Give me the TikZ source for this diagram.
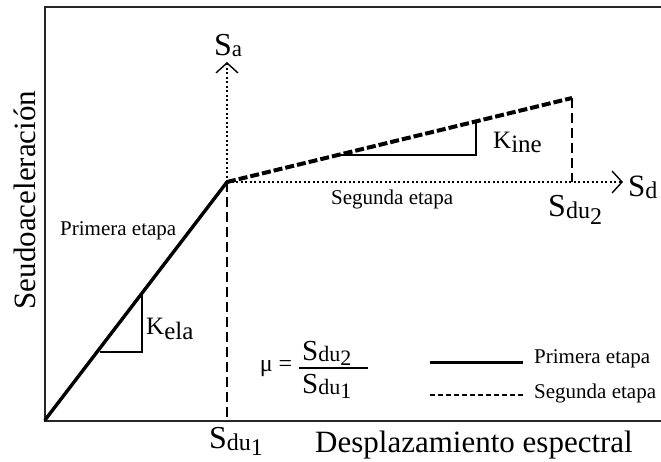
\documentclass[tikz,border=0pt]{standalone}
\usepackage{fontspec}
\setmainfont{Liberation Serif}
\usetikzlibrary{arrows.meta}
\newcommand{\fs}[1]{\fontsize{#1}{#1}\selectfont}
\tikzset{
  frameline/.style={line width=2pt, draw=black!85},
  elastic/.style={line width=3.4pt, line cap=round},
  inelastic/.style={line width=4pt, dash pattern=on 9pt off 3pt},
  guide/.style={line width=1.2pt, dash pattern=on 10pt off 5pt},
  axisdot/.style={line width=2pt, dash pattern=on 2pt off 2.5pt,
     -{Straight Barb[length=10pt,width=22pt,line width=1.4pt]}},
  slope/.style={line width=1.5pt},
  lbl/.style={inner sep=0pt, anchor=base west},
}
\begin{document}
\begin{tikzpicture}[x=1pt,y=-1pt]
\useasboundingbox (0,0) rectangle (661,461);
% frame
\coordinate (TL) at (45,7);
\coordinate (TR) at (662,7);
\coordinate (BL) at (45,421);
\coordinate (BR) at (662,421);
\draw[frameline] (TR) -- (TL) -- (BL) -- (BR);
% key points
\coordinate (O) at (45,420);
\coordinate (Y) at (227,182);
\coordinate (E) at (572,98);
\coordinate (SaTip) at (227,62);
\coordinate (SdTip) at (623,182);
\coordinate (Efoot) at (572,182);
\coordinate (Yfoot) at (227,420);
% guides
\draw[guide] (Y) -- (Yfoot);
\draw[guide] (E) -- (Efoot);
% local axes
\draw[axisdot] (Y) -- (SaTip);
\draw[axisdot] (Y) -- (SdTip);
% slope triangles
\coordinate (ka) at (100,352);
\coordinate (kb) at (142,352);
\coordinate (kc) at (142,295);
\draw[slope] (ka) -- (kb) -- (kc);
\coordinate (ia) at (338,155);
\coordinate (ib) at (476,155);
\coordinate (ic) at (476,121);
\draw[slope] (ia) -- (ib) -- (ic);
% curves
\draw[elastic] (O) -- (Y);
\draw[inelastic] (Y) -- (E);
% labels
\node[rotate=90, inner sep=0pt] (ylab) at (25,200) {\fs{31}Seudoaceleración};
\node[lbl] (xlab) at (315,452) {\fs{31}Desplazamiento espectral};
\node[lbl] (Sa) at (214,55) {\fs{32}S\raisebox{-1pt}{\fs{23}a}};
\node[lbl] (Sd) at (628,196) {\fs{31}S\raisebox{-2pt}{\fs{24}d}};
\node[lbl] (Sdu2) at (548,216) {\fs{32}S\raisebox{-2pt}{\fs{24}du\raisebox{-6pt}{2}}};
\node[lbl] (Sdu1) at (209,448) {\fs{32}S\raisebox{-2pt}{\fs{24}du\raisebox{-5pt}{1}}};
\node[lbl] (p1) at (60,235) {\fs{21}Primera etapa};
\node[lbl] (s2) at (331,204) {\fs{21}Segunda etapa};
\node[lbl] (Kela) at (146,334) {\fs{25}K\raisebox{-5pt}{\fs{25}ela}};
\node[lbl] (Kine) at (493,148) {\fs{25}K\raisebox{-4pt}{\fs{25}ine}};
% ductility formula
\node[inner sep=0pt] (mu) at (276,369) {\fs{24}μ =};
\coordinate (fa) at (299,368);
\coordinate (fb) at (368,368);
\draw[line width=1.7pt] (fa) -- (fb);
\node[lbl] (num) at (302,360) {\fs{29}S\raisebox{-1pt}{\fs{22}du\raisebox{-4pt}{2}}};
\node[lbl] (den) at (302,393) {\fs{29}S\raisebox{-1pt}{\fs{22}du\raisebox{-4pt}{1}}};
% legend
\coordinate (l1a) at (430,362);
\coordinate (l1b) at (523,362);
\coordinate (l2a) at (430,395);
\coordinate (l2b) at (523,395);
\draw[line width=3pt] (l1a) -- (l1b);
\draw[line width=2.2pt, dash pattern=on 5pt off 3pt] (l2a) -- (l2b);
\node[lbl] (lg1) at (534,363) {\fs{21}Primera etapa};
\node[lbl] (lg2) at (534,398) {\fs{21}Segunda etapa};
\end{tikzpicture}
\end{document}
